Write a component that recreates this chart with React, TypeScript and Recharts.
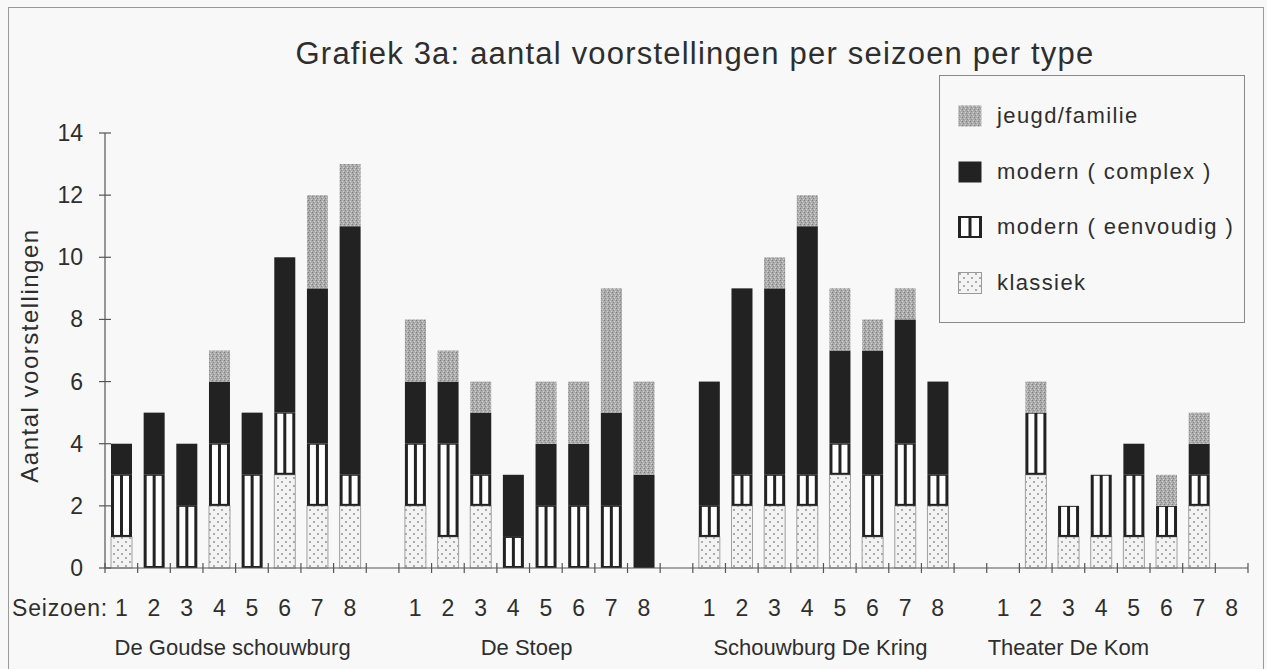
import React from 'react';
import { BarChart, Bar, XAxis, YAxis, Legend } from 'recharts';

const title = 'Grafiek 3a: aantal voorstellingen per seizoen per type';
const yLabel = 'Aantal voorstellingen';
const xPrefix = 'Seizoen:';
const groups = ['De Goudse schouwburg', 'De Stoep', 'Schouwburg De Kring', 'Theater De Kom'];
const seasons = ['1', '2', '3', '4', '5', '6', '7', '8'];
const yTicks = [0, 2, 4, 6, 8, 10, 12, 14];

// values per group, seasons 1..8
const klassiek = [
  [1, 0, 0, 2, 0, 3, 2, 2],
  [2, 1, 2, 0, 0, 0, 0, 0],
  [1, 2, 2, 2, 3, 1, 2, 2],
  [0, 3, 1, 1, 1, 1, 2, 0],
];
const eenvoudig = [
  [2, 3, 2, 2, 3, 2, 2, 1],
  [2, 3, 1, 1, 2, 2, 2, 0],
  [1, 1, 1, 1, 1, 2, 2, 1],
  [0, 2, 1, 2, 2, 1, 1, 0],
];
const complex = [
  [1, 2, 2, 2, 2, 5, 5, 8],
  [2, 2, 2, 2, 2, 2, 3, 3],
  [4, 6, 6, 8, 3, 4, 4, 3],
  [0, 0, 0, 0, 1, 0, 1, 0],
];
const jeugd = [
  [0, 0, 0, 1, 0, 0, 3, 2],
  [2, 1, 1, 0, 2, 2, 4, 3],
  [0, 0, 1, 1, 2, 1, 1, 0],
  [0, 1, 0, 0, 0, 1, 1, 0],
];

const seriesNames = {
  klassiek: 'klassiek',
  eenvoudig: 'modern ( eenvoudig )',
  complex: 'modern ( complex )',
  jeugd: 'jeugd/familie',
};

type Row = { key: string; season: string; group: number; klassiek?: number; eenvoudig?: number; complex?: number; jeugd?: number };
const rows: Row[] = [];
groups.forEach((g, gi) => {
  seasons.forEach((s, si) => {
    rows.push({
      key: `${gi}-${s}`,
      season: s,
      group: gi,
      klassiek: klassiek[gi][si],
      eenvoudig: eenvoudig[gi][si],
      complex: complex[gi][si],
      jeugd: jeugd[gi][si],
    });
  });
  if (gi < groups.length - 1) rows.push({ key: `gap-${gi}`, season: '', group: -1 });
});
const N = rows.length;

const FONT = "'Liberation Sans', Arial, sans-serif";
const TEXT = '#2e2e2e';
const AXIS = '#555';
const DARK = '#222';
const CHART_W = 1267;
const MARGIN = { top: 133, right: 19, left: 0, bottom: 0 };
const Y_W = 105;

const SeasonTick = (props: any) => {
  const { x, y, index } = props;
  const bw = (CHART_W - MARGIN.right - MARGIN.left - Y_W) / N;
  const r = rows[index];
  const left = x - bw / 2;
  const right = x + bw / 2;
  const isGroupStart = r && r.group >= 0 && r.season === seasons[seasons.length / 2];
  const gi = r ? r.group : -1;
  const dx = gi === groups.length - 1 ? -49 : -3;
  return (
    <g>
      <line x1={left} x2={left} y1={y - 5} y2={y + 5} stroke={AXIS} strokeWidth={1.2} />
      {index === N - 1 && <line x1={right} x2={right} y1={y - 5} y2={y + 5} stroke={AXIS} strokeWidth={1.2} />}
      {index === 0 && (
        <text x={12} y={y + 48} fill={TEXT} fontSize={23} letterSpacing={0.8} fontFamily={FONT}>{xPrefix}</text>
      )}
      {r && r.season && (
        <text x={x} y={y + 48} textAnchor="middle" fill={TEXT} fontSize={23} fontFamily={FONT}>{r.season}</text>
      )}
      {isGroupStart && (
        <text x={left + dx} y={y + 87} textAnchor="middle" fill={TEXT} fontSize={22} fontFamily={FONT}>{groups[gi]}</text>
      )}
    </g>
  );
};

const YTick = (props: any) => {
  const { x, y, payload } = props;
  return (
    <g>
      <line x1={x - 6} x2={x + 6} y1={y} y2={y} stroke={AXIS} strokeWidth={1.2} />
      <text x={x - 22} y={y + 8} textAnchor="end" fill={TEXT} fontSize={23} fontFamily={FONT}>{payload.value}</text>
    </g>
  );
};

const StripeShape = (p: any) => {
  const { x, y, width: w, height: h } = p;
  if (!h || h <= 0) return null;
  const lw = 3;
  const sw = (w - 3 * lw) / 2;
  return (
    <g>
      <rect x={x} y={y} width={w} height={h} fill={DARK} />
      <rect x={x + lw} y={y + 1} width={sw} height={Math.max(0, h - 3)} fill="#fdfdfd" />
      <rect x={x + 2 * lw + sw} y={y + 1} width={sw} height={Math.max(0, h - 3)} fill="#fdfdfd" />
    </g>
  );
};

const PlainShape = (fill: string, stroke?: string) => (p: any) => {
  const { x, y, width: w, height: h } = p;
  if (!h || h <= 0) return null;
  return <rect x={x} y={y} width={w} height={h} fill={fill} stroke={stroke} strokeWidth={stroke ? 1 : 0} />;
};

const Swatch = ({ k }: { k: string }) => {
  const w = 24;
  const h = 22;
  if (k === 'eenvoudig') {
    return (
      <svg width={w} height={h}>
        <rect x={0} y={0} width={w} height={h} fill={DARK} />
        <rect x={3} y={2} width={7.5} height={h - 4} fill="#fdfdfd" />
        <rect x={13.5} y={2} width={7.5} height={h - 4} fill="#fdfdfd" />
      </svg>
    );
  }
  const fill = k === 'klassiek' ? 'url(#dots)' : k === 'complex' ? DARK : 'url(#speckle)';
  return (
    <svg width={w} height={h}>
      <rect x={0.5} y={0.5} width={w - 1} height={h - 1} fill={fill} stroke={k === 'klassiek' ? '#999' : 'none'} />
    </svg>
  );
};

const legendOrder = ['jeugd', 'complex', 'eenvoudig', 'klassiek'];

const LegendBox = () => (
  <div style={{ position: 'relative', width: 306, height: 248, border: '1.5px solid #8a8a8a', boxSizing: 'border-box', background: '#f8f8f8' }}>
    {legendOrder.map((k, i) => (
      <div key={k} style={{ position: 'absolute', left: 18, top: 27 + i * 55.5, height: 26, display: 'flex', alignItems: 'center' }}>
        <Swatch k={k} />
        <span style={{ marginLeft: 15, fontSize: 22, letterSpacing: 1.4, fontFamily: FONT, color: TEXT, whiteSpace: 'nowrap' }}>
          {(seriesNames as any)[k]}
        </span>
      </div>
    ))}
  </div>
);

export default function App() {
  return (
    <div style={{ position: 'absolute', left: 0, top: 0, width: 1267, height: 669, background: '#f8f8f8', overflow: 'hidden' }}>
      <svg width={0} height={0} style={{ position: 'absolute' }}>
        <defs>
          <pattern id="dots" width={8} height={8} patternUnits="userSpaceOnUse">
            <rect width={8} height={8} fill="#f3f3f3" />
            <circle cx={2} cy={2} r={0.9} fill="#8a8a8a" />
            <circle cx={6} cy={6} r={0.9} fill="#8a8a8a" />
          </pattern>
          <pattern id="speckle" width={4} height={4} patternUnits="userSpaceOnUse">
            <rect width={4} height={4} fill="#ababab" />
            <rect x={0} y={0} width={1} height={1} fill="#7e7e7e" />
            <rect x={2} y={1} width={1} height={1} fill="#d0d0d0" />
            <rect x={1} y={2} width={1} height={1} fill="#8c8c8c" />
            <rect x={3} y={3} width={1} height={1} fill="#cfcfcf" />
          </pattern>
        </defs>
      </svg>
      <div style={{ position: 'absolute', left: 8, top: 7, width: 1256, height: 680, border: '1.5px solid #9a9a9a', boxSizing: 'border-box' }} />
      <div style={{ position: 'absolute', left: 0, top: 36, width: 1390, textAlign: 'center', fontSize: 31, letterSpacing: 1.2, fontFamily: FONT, color: TEXT, whiteSpace: 'nowrap' }}>
        {title}
      </div>
      <BarChart
        width={CHART_W}
        height={669}
        data={rows}
        margin={MARGIN}
        barSize={21}
        style={{ position: 'absolute', left: 0, top: 0 }}
      >
        <XAxis
          dataKey="key"
          interval={0}
          height={101}
          tickLine={false}
          tickSize={0}
          tickMargin={0}
          axisLine={{ stroke: AXIS, strokeWidth: 1.2 }}
          tick={SeasonTick}
        />
        <YAxis
          domain={[0, 14]}
          ticks={yTicks}
          interval={0}
          width={Y_W}
          tickLine={false}
          tickSize={0}
          tickMargin={0}
          axisLine={{ stroke: AXIS, strokeWidth: 1.2 }}
          tick={YTick}
          label={{
            content: (lp: any) => {
              const vb = lp.viewBox || { x: 0, y: 133, width: 105, height: 435 };
              const cx = vb.x + 38;
              const cy = vb.y + vb.height / 2 + 5;
              return (
                <text x={cx} y={cy} transform={`rotate(-90 ${cx} ${cy})`} textAnchor="middle" fill={TEXT} fontSize={24} letterSpacing={1.5} fontFamily={FONT}>
                  {yLabel}
                </text>
              );
            },
          }}
        />
        <Legend
          layout="horizontal"
          verticalAlign="middle"
          align="center"
          content={LegendBox}
          wrapperStyle={{ position: 'absolute', left: 939, top: 75, width: 308, height: 250 }}
        />
        <Bar dataKey="klassiek" name={seriesNames.klassiek} stackId="s" fill="url(#dots)" shape={PlainShape('url(#dots)', '#a0a0a0')} isAnimationActive={false} />
        <Bar dataKey="eenvoudig" name={seriesNames.eenvoudig} stackId="s" fill="#fff" shape={StripeShape} isAnimationActive={false} />
        <Bar dataKey="complex" name={seriesNames.complex} stackId="s" fill={DARK} shape={PlainShape(DARK)} isAnimationActive={false} />
        <Bar dataKey="jeugd" name={seriesNames.jeugd} stackId="s" fill="url(#speckle)" shape={PlainShape('url(#speckle)')} isAnimationActive={false} />
      </BarChart>
    </div>
  );
}
